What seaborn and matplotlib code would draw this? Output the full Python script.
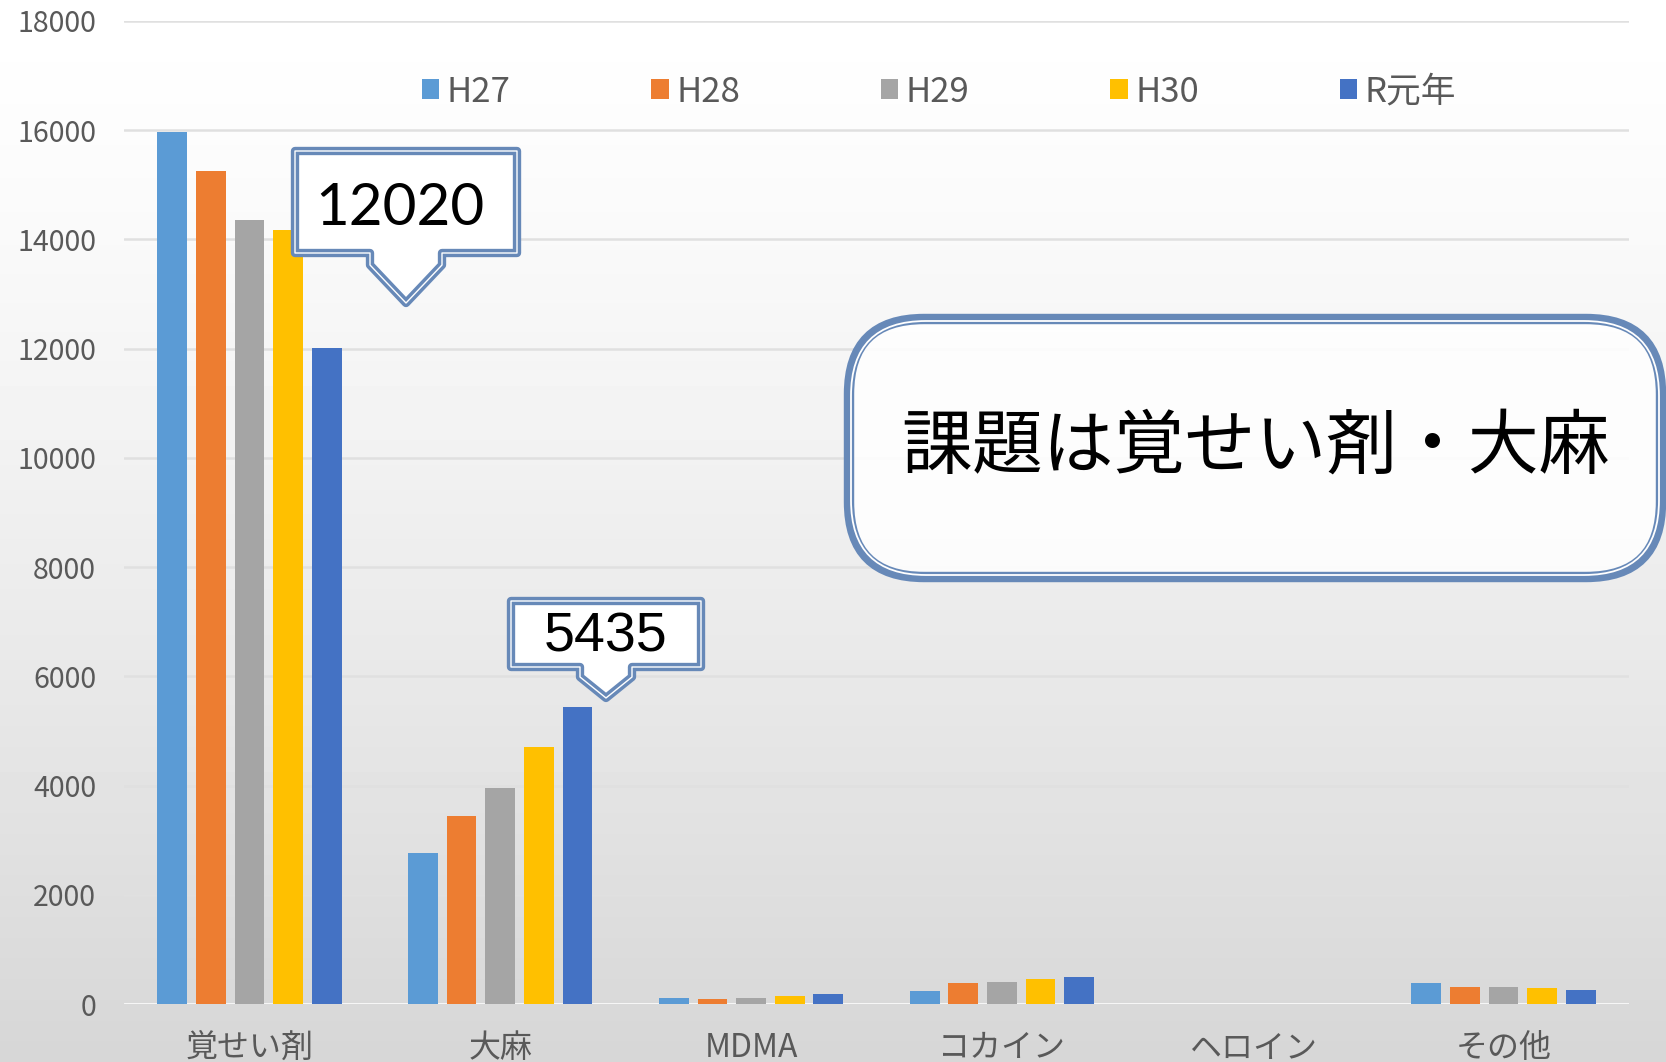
import numpy as np
import pandas as pd
import matplotlib
matplotlib.use("Agg")
import matplotlib.pyplot as plt
import seaborn as sns
from matplotlib.path import Path
from matplotlib.patches import PathPatch, FancyBboxPatch, Patch

# ---------------- data ----------------
categories = ["覚せい剤", "大麻", "MDMA", "コカイン", "ヘロイン", "その他"]
years = ["H27", "H28", "H29", "H30", "R元年"]
h27 = [15970, 2760, 115, 240, 0, 380]
h28 = [15250, 3440, 92, 380, 0, 315]
h29 = [14360, 3960, 115, 400, 0, 315]
h30 = [14170, 4700, 140, 450, 0, 290]
r1 = [12020, 5435, 190, 497, 0, 265]
colors = ["#5B9BD5", "#ED7D31", "#A5A5A5", "#FFC000", "#4472C4"]
yticks = [0, 2000, 4000, 6000, 8000, 10000, 12000, 14000, 16000, 18000]
callout_big = "12020"
callout_small = "5435"
headline = "課題は覚せい剤・大麻"

series = [h27, h28, h29, h30, r1]
df = pd.DataFrame({
    "cat": [c for s in series for c in categories],
    "year": [y for y, s in zip(years, series) for _ in s],
    "val": [v for s in series for v in s],
})

sns.set_style("white")
plt.rcParams["font.family"] = ["Noto Sans CJK JP", "DejaVu Sans"]

W, H = 1666, 1062
fig = plt.figure(figsize=(W / 100, H / 100), dpi=100)

def fx(x):
    return x / W

def fy(y):
    return 1 - y / H

# background gradient
bg = fig.add_axes([0, 0, 1, 1], zorder=-10)
t = np.linspace(0, 1, 256)
shade = 1.0 - 0.16 * t ** 1.3
grad = np.repeat(shade[:, None], 2, axis=1)
bg.imshow(grad, aspect="auto", cmap="gray", vmin=0, vmax=1, extent=[0, 1, 0, 1])
bg.axis("off")

ax = fig.add_axes([fx(124), fy(1004), fx(1629) - fx(124), fy(21) - fy(1004)])
ax.set_facecolor("none")
sns.barplot(data=df, x="cat", y="val", hue="year", palette=colors,
            hue_order=years, order=categories, width=0.77, gap=0.23,
            saturation=1, ax=ax, legend=False, errorbar=None, zorder=3,
            linewidth=0, edgecolor="none")
ax.set_xlim(-0.5, 5.5)
ax.set_ylim(0, 18000)
ax.set_yticks(yticks)
ax.set_yticklabels([str(v) for v in yticks])
ax.set_xlabel("")
ax.set_ylabel("")
for s in ax.spines.values():
    s.set_visible(False)
ax.yaxis.grid(True, color="#e0e0e0", lw=1.8, zorder=0)
ax.set_axisbelow(True)
ax.axhline(0, color="white", lw=1.8, zorder=2)
ax.tick_params(axis="y", length=0, pad=20, labelsize=20.5, labelcolor="#595959")
ax.tick_params(axis="x", length=0, pad=20, labelsize=23, labelcolor="#595959")

# legend
handles = [Patch(facecolor=c, edgecolor="none", label=y) for c, y in zip(colors, years)]
fig.legend(handles=handles, loc="center", bbox_to_anchor=(fx(939), fy(92)),
           ncol=5, frameon=False, fontsize=25, handlelength=0.5, handleheight=0.5,
           handletextpad=0.22, columnspacing=4.05, labelcolor="#595959")

BLUE = "#6789b8"

def callout(x0, x1, y0, y1, px0, px1, drop, tipx, tipy):
    verts = [(x0, y0), (x1, y0), (x1, y1), (px1, y1), (px1, y1 + drop),
             (tipx, tipy), (px0, y1 + drop), (px0, y1), (x0, y1), (x0, y0)]
    verts = [(fx(a), fy(b)) for a, b in verts]
    codes = [Path.MOVETO] + [Path.LINETO] * (len(verts) - 2) + [Path.CLOSEPOLY]
    p = Path(verts, codes)
    fig.add_artist(PathPatch(p, transform=fig.transFigure, facecolor="white",
                             edgecolor=BLUE, lw=6.0, joinstyle="round", zorder=20))
    fig.add_artist(PathPatch(p, transform=fig.transFigure, facecolor="none",
                             edgecolor="white", lw=1.0, joinstyle="round", zorder=21))

callout(295, 517, 151, 253, 370, 442, 12, 406, 303)
fig.text(fx(400), fy(209), callout_big, fontsize=42, family=["Lato", "DejaVu Sans"],
         ha="center", va="center", color="black", zorder=30)

callout(511, 701, 601, 667, 580, 632, 10, 606, 698)
fig.text(fx(606), fy(638), callout_small, fontsize=40, family=["Liberation Sans", "DejaVu Sans"],
         ha="center", va="center", color="black", zorder=30)

# big rounded box
bx0, bx1, by0, by1 = 849, 1661, 319, 577
box_kw = dict(boxstyle="round,pad=0,rounding_size=0.045", transform=fig.transFigure,
              mutation_aspect=W / H)
fig.add_artist(FancyBboxPatch((fx(bx0), fy(by1)), fx(bx1) - fx(bx0), fy(by0) - fy(by1),
                              facecolor=(1, 1, 1, 0.88), edgecolor=BLUE, lw=7.5,
                              zorder=20, **box_kw))
ins = 2
fig.add_artist(FancyBboxPatch((fx(bx0 + ins), fy(by1 - ins)), fx(bx1 - bx0 - 2 * ins),
                              fy(by0 + ins) - fy(by1 - ins),
                              facecolor="none", edgecolor="white", lw=1.3,
                              zorder=21, **box_kw))
fig.text(fx(1256), fy(447), headline, fontsize=51, ha="center", va="center",
         color="black", zorder=30)

fig.savefig("out.png", dpi=100)
